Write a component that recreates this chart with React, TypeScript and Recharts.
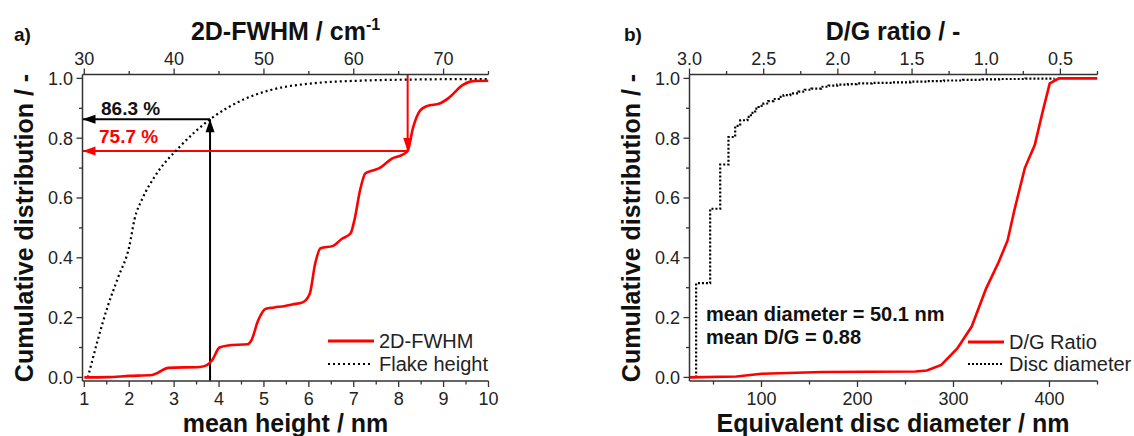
import { LineChart, Line, XAxis, YAxis } from "recharts";

const FONT = '"Liberation Sans", Arial, sans-serif';
const RED = "#ff0000";
const INK = "#222";

// ---- panel a ----
// 2D-FWHM cumulative distribution, read against the top axis (cm-1)
const fwhmX = [30, 32.6, 35, 37.55, 38.15, 39.35, 42.85, 43.65, 44.25, 45.05, 46, 48.2, 48.6, 49.35, 50.15, 51.15, 52.35, 53.15, 54.3, 55.1, 55.7, 56.3, 57.7, 58.65, 59.65, 60.1, 60.7, 61.3, 62.1, 62.85, 64.25, 65.45, 66, 66.6, 67.4, 68.2, 69.55, 70.55, 72.15, 73.3, 75];
const fwhmY = [0, 0.001, 0.005, 0.008, 0.015, 0.032, 0.035, 0.041, 0.058, 0.1, 0.107, 0.111, 0.124, 0.19, 0.229, 0.234, 0.239, 0.244, 0.251, 0.28, 0.38, 0.432, 0.44, 0.463, 0.482, 0.53, 0.626, 0.683, 0.692, 0.7, 0.732, 0.745, 0.757, 0.835, 0.893, 0.908, 0.916, 0.934, 0.978, 0.991, 0.992];
// flake height cumulative distribution, bottom axis (nm)
const heightX = [1.08, 1.28, 1.52, 1.76, 2.0, 2.12, 2.3, 2.57, 3.13, 3.8, 4.54, 5.17, 6.12, 7.06, 8.24, 10];
const heightY = [0, 0.114, 0.237, 0.337, 0.437, 0.53, 0.6, 0.672, 0.772, 0.863, 0.929, 0.962, 0.984, 0.992, 0.996, 0.998];

const heightTicks = [1, 1.5, 2, 2.5, 3, 3.5, 4, 4.5, 5, 5.5, 6, 6.5, 7, 7.5, 8, 8.5, 9, 9.5, 10];
const heightMajor = [1, 2, 3, 4, 5, 6, 7, 8, 9, 10];
const fwhmTicks = [30, 35, 40, 45, 50, 55, 60, 65, 70, 75];
const fwhmMajor = [30, 40, 50, 60, 70];

// annotation arrows: 86.3 % at 3.8 nm, 75.7 % at 66 cm-1
const blackUp = [{ x: 3.8, y: -0.012 }, { x: 3.8, y: 0.863 }];
const blackLeft = [{ x: 3.8, y: 0.863 }, { x: 0.96, y: 0.863 }];
const redDown = [{ x: 66, y: 1.013 }, { x: 66, y: 0.757 }];
const redLeft = [{ x: 66, y: 0.757 }, { x: 29.8, y: 0.757 }];

// ---- panel b ----
// D/G ratio cumulative distribution, top axis (reversed)
const dgX = [3.0, 2.683, 2.514, 2.105, 1.476, 1.4, 1.303, 1.195, 1.098, 1.001, 0.916, 0.856, 0.81, 0.79, 0.74, 0.673, 0.62, 0.572, 0.51, 0.25];
const dgY = [0, 0.003, 0.012, 0.018, 0.02, 0.023, 0.042, 0.097, 0.17, 0.297, 0.386, 0.458, 0.56, 0.6, 0.7, 0.777, 0.888, 0.983, 1.0, 1.0];
// disc diameter cumulative distribution (step), bottom axis (nm)
const discX = [31.9, 31.9, 46.5, 57, 65.6, 72.6, 77.8, 85.4, 89, 93.4, 97, 102, 107, 112.5, 118, 123, 130, 138.5, 145, 152, 162, 170, 178.8, 190, 199, 215, 236, 255, 273, 290, 310, 330, 347.5, 375, 405];
const discY = [0, 0.315, 0.564, 0.712, 0.804, 0.841, 0.86, 0.871, 0.885, 0.899, 0.908, 0.916, 0.924, 0.931, 0.938, 0.944, 0.95, 0.956, 0.962, 0.966, 0.972, 0.976, 0.979, 0.981, 0.983, 0.985, 0.987, 0.989, 0.991, 0.993, 0.995, 0.997, 0.998, 0.999, 1.0];

const discTicks = [50, 100, 150, 200, 250, 300, 350, 400, 450];
const discMajor = [100, 200, 300, 400];
const dgTicks = [3.0, 2.75, 2.5, 2.25, 2.0, 1.75, 1.5, 1.25, 1.0, 0.75, 0.5, 0.25];
const dgMajor = [3.0, 2.5, 2.0, 1.5, 1.0, 0.5];

const cumTicks = [0, 0.1, 0.2, 0.3, 0.4, 0.5, 0.6, 0.7, 0.8, 0.9, 1.0];
const cumMajor = [0, 0.2, 0.4, 0.6, 0.8, 1.0];

const toPts = (xs: number[], ys: number[]) => xs.map((x, i) => ({ x, y: ys[i] }));

const makeTick = (side: "bottom" | "top" | "left", major: number[], fmt: (v: number) => string) => (props: any) => {
  const { x, y, payload, index } = props;
  const v = payload.value;
  const isMajor = major.some((m) => Math.abs(m - v) < 1e-6);
  const len = isMajor ? 6 : 3.5;
  const txt = { fontFamily: FONT, fontSize: 18, fill: INK };
  if (side === "bottom") {
    return (
      <g key={`t${index}`}>
        <line x1={x} y1={y} x2={x} y2={y + len} stroke="#333" strokeWidth={1.3} />
        {isMajor && <text x={x} y={y + 24} textAnchor="middle" style={txt}>{fmt(v)}</text>}
      </g>
    );
  }
  if (side === "top") {
    return (
      <g key={`t${index}`}>
        <line x1={x} y1={y} x2={x} y2={y - len} stroke="#333" strokeWidth={1.3} />
        {isMajor && <text x={x} y={y - 9.5} textAnchor="middle" style={txt}>{fmt(v)}</text>}
      </g>
    );
  }
  return (
    <g key={`t${index}`}>
      <line x1={x} y1={y} x2={x - len} y2={y} stroke="#333" strokeWidth={1.3} />
      {isMajor && <text x={x - 9.5} y={y + 6.5} textAnchor="end" style={txt}>{fmt(v)}</text>}
    </g>
  );
};

const arrowHead = (dir: "left" | "up" | "down", color: string) => (p: any) => {
  const { cx, cy, index } = p;
  if (index !== 1 || cx == null) return <g key={`a${index}`} />;
  const L = 13, W = 4.5;
  let pts = "";
  if (dir === "left") pts = `${cx},${cy} ${cx + L},${cy - W} ${cx + L},${cy + W}`;
  if (dir === "up") pts = `${cx},${cy} ${cx - W},${cy + L} ${cx + W},${cy + L}`;
  if (dir === "down") pts = `${cx},${cy} ${cx - W},${cy - L} ${cx + W},${cy - L}`;
  return <polygon key={`a${index}`} points={pts} fill={color} />;
};

const axisLine = { stroke: "#333", strokeWidth: 1.5 };
const f1 = (v: number) => v.toFixed(1);
const f0 = (v: number) => String(v);

export default function App() {
  const title = { fontFamily: FONT, fontSize: 25, fontWeight: 700, fill: "#111" };
  const legend = { fontFamily: FONT, fontSize: 20, fill: INK };
  const note = { fontFamily: FONT, fontSize: 19, fontWeight: 700 };
  return (
    <div style={{ position: "absolute", left: 0, top: 0, width: 1134, height: 436, background: "#fff", overflow: "hidden" }}>
      <div style={{ position: "absolute", left: 0, top: 0 }}>
        <LineChart width={560} height={436} margin={{ top: 0, right: 71.5, bottom: 0, left: 0 }}>
          <XAxis xAxisId="bottom" dataKey="x" type="number" domain={[0.96, 10]} allowDataOverflow ticks={heightTicks} interval={0}
            height={55} tickSize={0} tickMargin={0} tickLine={false} axisLine={axisLine} tick={makeTick("bottom", heightMajor, f0)} />
          <XAxis xAxisId="top" orientation="top" dataKey="x" type="number" domain={[29.8, 75]} allowDataOverflow ticks={fwhmTicks} interval={0}
            height={74.5} tickSize={0} tickMargin={0} tickLine={false} axisLine={axisLine} tick={makeTick("top", fwhmMajor, f0)} />
          <YAxis dataKey="y" type="number" domain={[-0.012, 1.013]} allowDataOverflow ticks={cumTicks} interval={0}
            width={82.5} tickSize={0} tickMargin={0} tickLine={false} axisLine={axisLine} tick={makeTick("left", cumMajor, f1)} />
          <Line xAxisId="bottom" data={blackUp} dataKey="y" stroke="#000" strokeWidth={2} dot={arrowHead("up", "#000")} activeDot={false} isAnimationActive={false} />
          <Line xAxisId="bottom" data={blackLeft} dataKey="y" stroke="#000" strokeWidth={2} dot={arrowHead("left", "#000")} activeDot={false} isAnimationActive={false} />
          <Line xAxisId="top" data={redDown} dataKey="y" stroke={RED} strokeWidth={2} dot={arrowHead("down", RED)} activeDot={false} isAnimationActive={false} />
          <Line xAxisId="top" data={redLeft} dataKey="y" stroke={RED} strokeWidth={2} dot={arrowHead("left", RED)} activeDot={false} isAnimationActive={false} />
          <Line xAxisId="bottom" data={toPts(heightX, heightY)} dataKey="y" type="monotone" stroke="#000" strokeWidth={2.2} strokeDasharray="2 3" dot={false} activeDot={false} isAnimationActive={false} />
          <Line xAxisId="top" data={toPts(fwhmX, fwhmY)} dataKey="y" type="monotone" stroke={RED} strokeWidth={2.6} dot={false} activeDot={false} isAnimationActive={false} />
        </LineChart>
      </div>
      <div style={{ position: "absolute", left: 606.5, top: 0 }}>
        <LineChart width={527.5} height={436} margin={{ top: 0, right: 37, bottom: 0, left: 0 }}>
          <XAxis xAxisId="bottom" dataKey="x" type="number" domain={[25, 450]} allowDataOverflow ticks={discTicks} interval={0}
            height={55} tickSize={0} tickMargin={0} tickLine={false} axisLine={axisLine} tick={makeTick("bottom", discMajor, f0)} />
          <XAxis xAxisId="top" orientation="top" reversed dataKey="x" type="number" domain={[0.25, 3.0]} allowDataOverflow ticks={dgTicks} interval={0}
            height={74.5} tickSize={0} tickMargin={0} tickLine={false} axisLine={axisLine} tick={makeTick("top", dgMajor, f1)} />
          <YAxis dataKey="y" type="number" domain={[-0.012, 1.013]} allowDataOverflow ticks={cumTicks} interval={0}
            width={82.5} tickSize={0} tickMargin={0} tickLine={false} axisLine={axisLine} tick={makeTick("left", cumMajor, f1)} />
          <Line xAxisId="bottom" data={toPts(discX, discY)} dataKey="y" type="stepAfter" stroke="#000" strokeWidth={2.2} strokeDasharray="2 2" dot={false} activeDot={false} isAnimationActive={false} />
          <Line xAxisId="top" data={toPts(dgX, dgY)} dataKey="y" type="linear" stroke={RED} strokeWidth={2.6} dot={false} activeDot={false} isAnimationActive={false} />
        </LineChart>
      </div>
      <svg width={1134} height={436} style={{ position: "absolute", left: 0, top: 0, pointerEvents: "none" }}>
        <text x={14} y={41} style={{ ...note, fontSize: 19, fill: "#111" }}>a)</text>
        <text x={624} y={41} style={{ ...note, fontSize: 19, fill: "#111" }}>b)</text>
        <text x={285.5} y={40} textAnchor="middle" style={title}>2D-FWHM / cm<tspan dy={-10} fontSize={16}>-1</tspan></text>
        <text x={893} y={40} textAnchor="middle" style={title}>D/G ratio / -</text>
        <text x={285.5} y={432} textAnchor="middle" style={title}>mean height / nm</text>
        <text x={893} y={432} textAnchor="middle" style={title}>Equivalent disc diameter / nm</text>
        <text x={33} y={228} textAnchor="middle" transform="rotate(-90 33 228)" style={title}>Cumulative distribution / -</text>
        <text x={639.5} y={228} textAnchor="middle" transform="rotate(-90 639.5 228)" style={title}>Cumulative distribution / -</text>
        <text x={101} y={115} style={{ ...note, fill: "#111" }}>86.3 %</text>
        <text x={99} y={143} style={{ ...note, fill: RED }}>75.7 %</text>
        <text x={706} y={321} style={{ ...note, fontSize: 20, fill: "#111" }}>mean diameter = 50.1 nm</text>
        <text x={706} y={344} style={{ ...note, fontSize: 20, fill: "#111" }}>mean D/G = 0.88</text>
        <line x1={328} y1={341} x2={374} y2={341} stroke={RED} strokeWidth={3} />
        <text x={379} y={348} style={legend}>2D-FWHM</text>
        <line x1={328} y1={364} x2={372} y2={364} stroke="#000" strokeWidth={2.2} strokeDasharray="2 3" />
        <text x={379} y={371} style={legend}>Flake height</text>
        <line x1={968} y1={342} x2={1004} y2={342} stroke={RED} strokeWidth={3} />
        <text x={1009} y={349} style={legend}>D/G Ratio</text>
        <line x1={968} y1={364} x2={1004} y2={364} stroke="#000" strokeWidth={2.2} strokeDasharray="2 2" />
        <text x={1009} y={371} style={legend}>Disc diameter</text>
      </svg>
    </div>
  );
}
